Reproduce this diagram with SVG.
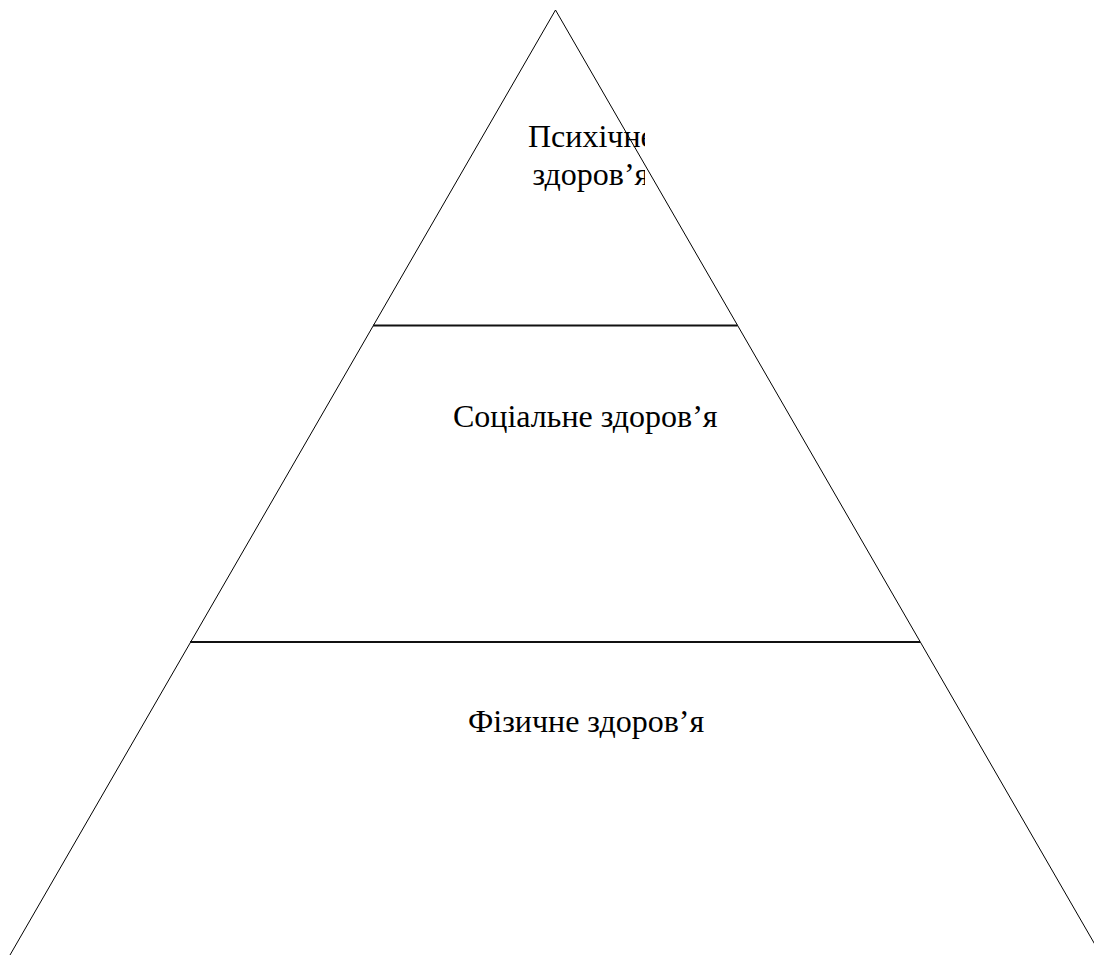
<svg xmlns="http://www.w3.org/2000/svg" width="1094" height="956" viewBox="0 0 1094 956">
<style>
.edge{fill:none;stroke:#000;stroke-width:1}
.div{stroke:#111;stroke-width:2}
.lbl{font-family:'Liberation Serif', 'DejaVu Serif', serif;font-size:32px;fill:#000}
</style>
<defs>
<clipPath id="c1"><rect x="500" y="110" width="145" height="90"/></clipPath>
</defs>
<rect width="1094" height="956" fill="#fff"/>
<g id="pyramid">
<path class="edge" d="M10 955 L555.5 10 L1101 955"/>
</g>
<g id="connectors">
<line class="div" x1="373" y1="325.5" x2="737.5" y2="325.5"/>
<line class="div" x1="190" y1="642" x2="920" y2="642"/>
</g>
<g id="node-mental" clip-path="url(#c1)">
<text class="lbl" x="528" y="147">Психічне</text>
<text class="lbl" x="532.5" y="185">здоров’я</text>
</g>
<g id="node-social">
<text class="lbl" x="453" y="427">Соціальне здоров’я</text>
</g>
<g id="node-physical">
<text class="lbl" x="468" y="732">Фізичне здоров’я</text>
</g>
</svg>
